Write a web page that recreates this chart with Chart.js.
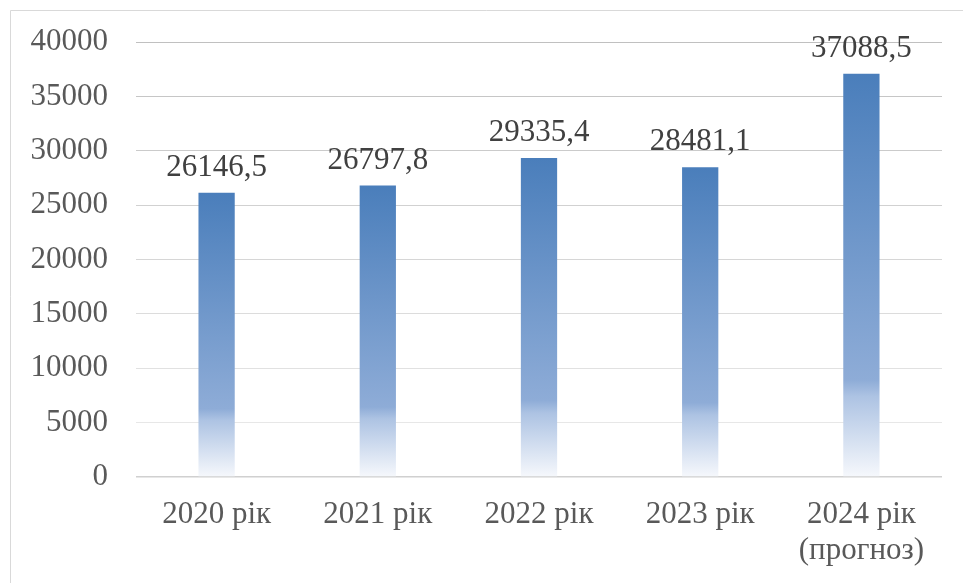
<!DOCTYPE html>
<html>
<head>
<meta charset="utf-8">
<script src="https://cdn.jsdelivr.net/npm/chart.js@4"></script>
<style>
  body { margin: 0; background: #fff; overflow: hidden; }
  canvas { display: block; }
</style>
</head>
<body>
<canvas id="chart" width="963" height="583"></canvas>
<script>
const categories = ['2020 рік', '2021 рік', '2022 рік', '2023 рік', ['2024 рік', '(прогноз)']];
const values = [26146.5, 26797.8, 29335.4, 28481.1, 37088.5];
const valueLabels = ['26146,5', '26797,8', '29335,4', '28481,1', '37088,5'];
const yTicks = [0, 5000, 10000, 15000, 20000, 25000, 30000, 35000, 40000];

const FONT = '"Liberation Serif", "Times New Roman", serif';

// light frame around the chart, clipped at right and bottom like the source
const framePlugin = {
    id: 'frame',
    beforeDraw(chart) {
        const ctx = chart.ctx;
        ctx.save();
        ctx.fillStyle = '#fff';
        ctx.fillRect(0, 0, chart.width, chart.height);
        ctx.strokeStyle = '#d9d9d9';
        ctx.lineWidth = 1;
        ctx.beginPath();
        ctx.moveTo(10.5, chart.height);
        ctx.lineTo(10.5, 10.5);
        ctx.lineTo(chart.width, 10.5);
        ctx.stroke();
        ctx.restore();
    }
};

const valueLabelPlugin = {
    id: 'valueLabels',
    afterDatasetsDraw(chart) {
        const ctx = chart.ctx;
        ctx.save();
        ctx.font = '31px ' + FONT;
        ctx.fillStyle = '#404040';
        ctx.textAlign = 'center';
        ctx.textBaseline = 'alphabetic';
        chart.getDatasetMeta(0).data.forEach((bar, i) => {
            ctx.fillText(valueLabels[i], bar.x, bar.y - 17);
        });
        ctx.restore();
    }
};

function barGradient(c) {
    const chart = c.chart;
    if (!chart.chartArea) return '#4a7ebb';
    const y = chart.scales.y;
    const top = y.getPixelForValue(c.raw);
    const bottom = y.getPixelForValue(0);
    const g = chart.ctx.createLinearGradient(0, top, 0, bottom);
    g.addColorStop(0, '#4a7ebb');
    g.addColorStop(0.76, '#8eacd7');
    g.addColorStop(0.8, '#adc3e3');
    g.addColorStop(1, '#f6f8fc');
    return g;
}

new Chart(document.getElementById('chart'), {
    type: 'bar',
    data: {
        labels: categories,
        datasets: [{
            data: values,
            backgroundColor: barGradient,
            borderWidth: 0,
            categoryPercentage: 1,
            barPercentage: 0.225
        }]
    },
    options: {
        responsive: false,
        animation: false,
        layout: { padding: { top: 42, right: 21, left: 0, bottom: 0 } },
        plugins: { legend: { display: false }, tooltip: { enabled: false } },
        scales: {
            x: {
                grid: { display: false, drawTicks: false },
                border: { display: false },
                ticks: {
                    color: '#595959',
                    font: { family: FONT, size: 31, lineHeight: 1.15 },
                    padding: 20,
                    maxRotation: 0
                },
                afterFit(scale) { scale.height = 106; }
            },
            y: {
                min: 0,
                max: 40000,
                afterBuildTicks(scale) { scale.ticks = yTicks.map(v => ({ value: v })); },
                grid: {
                    drawTicks: false,
                    color(c) {
                        if (c.tick && c.tick.value === 0) return '#d0d0d0';
                        const t = c.tick ? c.tick.value / 40000 : 0;
                        const v = Math.round(236 - t * 44);
                        return `rgb(${v},${v},${v})`;
                    },
                    lineWidth(c) { return c.tick && c.tick.value === 0 ? 1.5 : 1; }
                },
                border: { display: false },
                ticks: {
                    color: '#595959',
                    font: { family: FONT, size: 31 },
                    padding: 28,
                    callback: v => String(v)
                },
                afterFit(scale) {
                    scale.width = 136;
                    // tick padding otherwise pushes the plot top down
                    scale.paddingTop = 0;
                    scale.paddingBottom = 0;
                }
            }
        }
    },
    plugins: [framePlugin, valueLabelPlugin]
});
</script>
</body>
</html>
